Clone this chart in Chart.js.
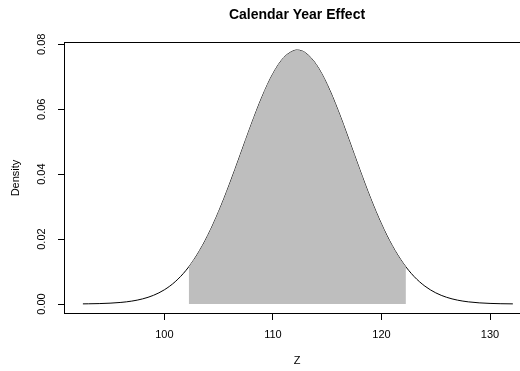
<!DOCTYPE html>
<html>
<head>
<meta charset="utf-8">
<title>Calendar Year Effect</title>
<script src="https://cdn.jsdelivr.net/npm/chart.js@4/dist/chart.umd.min.js"></script>
<style>
  html, body { margin: 0; padding: 0; background: #fff; overflow: hidden; }
  #wrap { width: 520px; height: 371px; overflow: hidden; }
  canvas { display: block; }
</style>
</head>
<body>
<div id="wrap"><canvas id="c" width="530" height="371"></canvas></div>
<script>
// Density curve of the calendar year effect
const zGrid = [92.5, 93, 94, 95, 96, 97, 98, 99, 100, 101, 102, 103, 104, 105, 106, 107, 108, 109, 110, 111,
  112, 112.25, 113, 114, 115, 116, 117, 118, 119, 120, 121, 122, 123, 124, 125, 126, 127, 128, 129, 130, 131, 132.1];
const density = [0.0000433, 0.0000631, 0.0001297, 0.0002565, 0.0004885, 0.0008947, 0.0015775, 0.0026767,
  0.004370, 0.006866, 0.010380, 0.015101, 0.021140, 0.028477, 0.036916, 0.046050, 0.055279, 0.063849,
  0.070970, 0.075909, 0.078130, 0.078224, 0.077383, 0.073752, 0.067640, 0.059697, 0.050696, 0.041430, 0.032580,
  0.024655, 0.017955, 0.012580, 0.008483, 0.005503, 0.003437, 0.002065, 0.001194, 0.000664, 0.000356,
  0.000183, 0.0000908, 0.0000401];

// Shaded 95% interval
const bandZ = [102.25, 103, 104, 105, 106, 107, 108, 109, 110, 111, 112, 112.25, 113, 114, 115, 116, 117, 118,
  119, 120, 121, 122, 122.25];
const bandDensity = [0.011459, 0.015101, 0.021140, 0.028477, 0.036916, 0.046050, 0.055279, 0.063849,
  0.070970, 0.075909, 0.078130, 0.078224, 0.077383, 0.073752, 0.067640, 0.059697, 0.050696, 0.041430, 0.032580,
  0.024655, 0.017955, 0.012580, 0.011459];

const xTicks = [100, 110, 120, 130];
const yTicks = [0.00, 0.02, 0.04, 0.06, 0.08];

const chartTitle = 'Calendar Year Effect';
const xLabel = 'Z';
const yLabel = 'Density';

const FONT = 'Liberation Sans, Arial, Helvetica, sans-serif';

const toPoints = (xs, ys) => xs.map((x, i) => ({ x: x, y: ys[i] }));

// Frame around the plotting region
const boxPlugin = {
  id: 'plotBox',
  afterDraw(chart) {
    const a = chart.chartArea;
    const ctx = chart.ctx;
    ctx.save();
    ctx.strokeStyle = '#000';
    ctx.lineWidth = 1;
    ctx.strokeRect(Math.round(a.left) + 0.5, Math.round(a.top) + 0.5,
      Math.round(a.right - a.left) - 1, Math.round(a.bottom - a.top) - 1);
    ctx.restore();
  }
};

new Chart(document.getElementById('c'), {
  type: 'line',
  data: {
    datasets: [
      {
        label: 'band',
        data: toPoints(bandZ, bandDensity),
        borderWidth: 0,
        borderColor: 'rgba(0,0,0,0)',
        backgroundColor: '#BEBEBE',
        fill: 'origin',
        pointRadius: 0,
        cubicInterpolationMode: 'monotone',
        order: 1
      },
      {
        label: 'density',
        data: toPoints(zGrid, density),
        borderColor: '#000',
        borderWidth: 1,
        fill: false,
        pointRadius: 0,
        cubicInterpolationMode: 'monotone',
        order: 2
      }
    ]
  },
  options: {
    responsive: false,
    animation: false,
    layout: { padding: 0 },
    plugins: {
      legend: { display: false },
      tooltip: { enabled: false },
      title: { display: false }
    },
    scales: {
      x: {
        type: 'linear',
        position: 'bottom',
        min: 90.76,
        max: 133.68,
        afterBuildTicks: s => { s.ticks = xTicks.map(v => ({ value: v })); },
        afterFit: s => { s.height = 57; },
        grid: { display: true, drawOnChartArea: false, drawTicks: true, tickLength: 6, color: '#000', lineWidth: 1 },
        border: { display: false },
        ticks: {
          color: '#000',
          font: { family: FONT, size: 11 },
          padding: 8,
          maxRotation: 0,
          minRotation: 0,
          callback: v => String(v)
        },
        title: {
          display: true,
          text: xLabel,
          color: '#000',
          font: { family: FONT, size: 11 },
          padding: { top: 0, bottom: 3 }
        }
      },
      top: {
        type: 'linear',
        position: 'top',
        display: true,
        afterFit: s => { s.height = 42; },
        grid: { display: false },
        border: { display: false },
        ticks: { display: false },
        title: {
          display: true,
          text: chartTitle,
          color: '#000',
          font: { family: FONT, size: 14, weight: 'bold' },
          padding: { top: 7, bottom: 0 }
        }
      },
      y: {
        type: 'linear',
        position: 'left',
        min: -0.00308,
        max: 0.08071,
        afterBuildTicks: s => { s.ticks = yTicks.map(v => ({ value: v })); },
        afterFit: s => { s.width = 64; },
        grid: { display: true, drawOnChartArea: false, drawTicks: true, tickLength: 6, color: '#000', lineWidth: 1 },
        border: { display: false },
        ticks: {
          color: '#000',
          font: { family: FONT, size: 11 },
          padding: 5,
          minRotation: 90,
          maxRotation: 90,
          crossAlign: 'center',
          callback: v => v.toFixed(2)
        },
        title: {
          display: true,
          text: yLabel,
          color: '#000',
          font: { family: FONT, size: 11 },
          padding: { top: 9, bottom: 0 }
        }
      }
    }
  },
  plugins: [boxPlugin]
});
</script>
</body>
</html>
